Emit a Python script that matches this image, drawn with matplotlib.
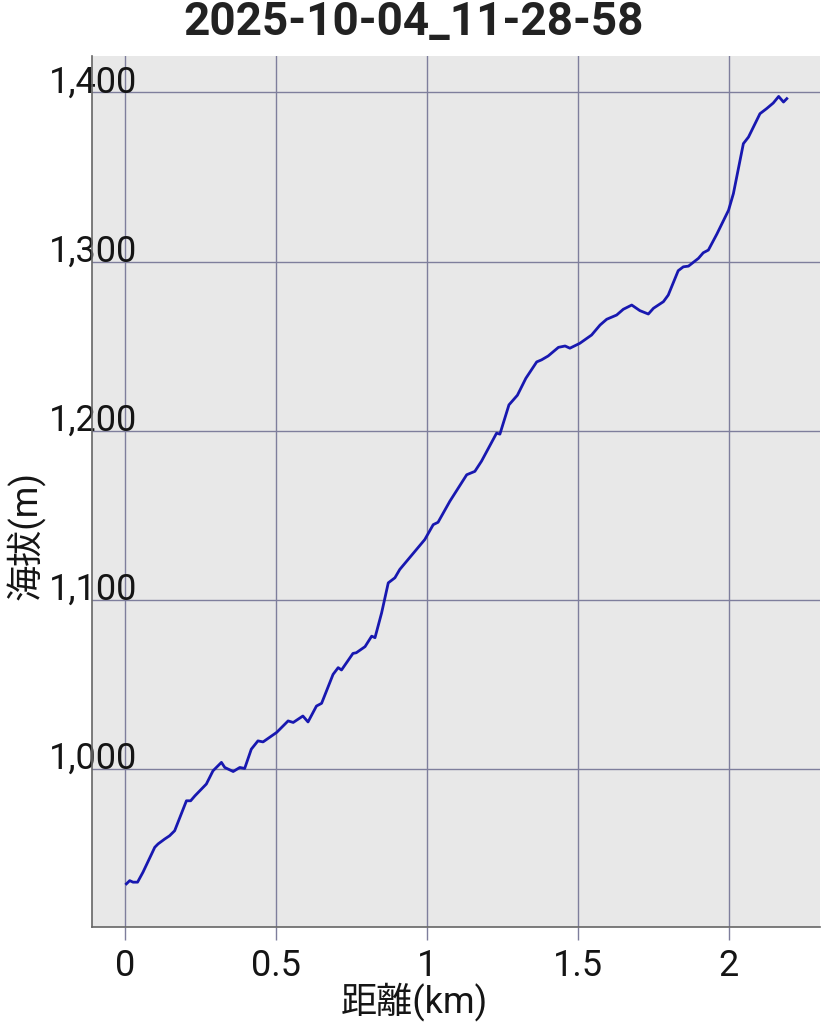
import matplotlib
matplotlib.use("Agg")
import matplotlib.pyplot as plt

distance_km = [0.004, 0.015, 0.026, 0.041, 0.059, 0.098, 0.109, 0.131, 0.147, 0.164,
               0.203, 0.217, 0.231, 0.269, 0.291, 0.319, 0.330, 0.358, 0.380, 0.396,
               0.418, 0.440, 0.457, 0.502, 0.540, 0.557, 0.589, 0.606, 0.634, 0.651,
               0.689, 0.706, 0.717, 0.755, 0.766, 0.795, 0.817, 0.828, 0.850, 0.872,
               0.894, 0.910, 0.993, 1.021, 1.037, 1.076, 1.132, 1.159, 1.181, 1.231,
               1.242, 1.272, 1.300, 1.328, 1.364, 1.380, 1.402, 1.436, 1.458, 1.474,
               1.507, 1.546, 1.574, 1.596, 1.629, 1.651, 1.679, 1.706, 1.734, 1.751,
               1.784, 1.800, 1.833, 1.850, 1.867, 1.900, 1.916, 1.933, 1.961, 2.000,
               2.016, 2.049, 2.066, 2.104, 2.126, 2.148, 2.166, 2.182, 2.193]
elevation_m = [932.2, 934.1, 933.2, 933.2, 939.1, 953.8, 955.8, 958.7, 960.6, 963.6,
               981.3, 981.3, 984.2, 991.2, 999.0, 1004.0, 1001.0, 998.6, 1001.0, 1000.4,
               1011.8, 1016.7, 1016.1, 1021.7, 1028.5, 1027.6, 1031.4, 1027.9, 1037.3, 1038.9,
               1056.0, 1060.0, 1058.6, 1068.4, 1068.8, 1072.4, 1078.6, 1077.7, 1092.4, 1110.1,
               1113.1, 1118.0, 1135.7, 1144.5, 1145.9, 1158.3, 1174.0, 1176.0, 1182.0, 1198.6,
               1198.0, 1215.3, 1221.0, 1231.0, 1240.7, 1241.9, 1244.2, 1249.3, 1250.1, 1248.8,
               1251.7, 1256.6, 1262.5, 1265.9, 1268.4, 1271.8, 1274.3, 1271.0, 1269.0, 1272.4,
               1276.3, 1280.2, 1294.6, 1296.9, 1297.3, 1301.9, 1305.2, 1306.8, 1316.2, 1330.4,
               1340.2, 1369.7, 1373.6, 1387.4, 1390.4, 1393.7, 1397.6, 1394.3, 1396.3]

x_ticks = [0, 0.5, 1, 1.5, 2]
x_tick_labels = ["0", "0.5", "1", "1.5", "2"]
y_ticks = [1000, 1100, 1200, 1300, 1400]
y_tick_labels = ["1,000", "1,100", "1,200", "1,300", "1,400"]

title = "2025-10-04_11-28-58"
x_label = "距離(km)"
y_label = "海拔(m)"

FAM = ["Roboto", "Noto Sans CJK JP", "DejaVu Sans"]
plt.rcParams["font.family"] = FAM

fig = plt.figure(figsize=(8.28, 10.24), dpi=100)
ax = fig.add_axes([92 / 828, 1 - 927 / 1024, (820 - 92) / 828, (927 - 56) / 1024])
ax.set_facecolor("#e8e8e8")

grid_c = "#7e7e9c"
ax.grid(True, color=grid_c, linewidth=1.0, zorder=0)
ax.set_axisbelow(True)

ax.plot(distance_km, elevation_m, color="#1818b0", linewidth=2.0, zorder=3)

ax.set_xlim(-0.110, 2.303)
ax.set_ylim(906.7, 1421.5)

ax.set_xticks(x_ticks)
ax.set_xticklabels(x_tick_labels, fontsize=26, color="#151515")
ax.set_yticks(y_ticks)
ax.set_yticklabels(y_tick_labels, fontsize=26, color="#151515")

ax.tick_params(axis="x", length=9, width=1.0, color=grid_c, pad=6)
ax.tick_params(axis="y", length=0, pad=-32.5)
for lab in ax.get_yticklabels():
    lab.set_horizontalalignment("right")
    lab.set_verticalalignment("baseline")

for s in ["top", "right"]:
    ax.spines[s].set_visible(False)
for s in ["left", "bottom"]:
    ax.spines[s].set_color("#666666")
    ax.spines[s].set_linewidth(1.2)

fig.text(414 / 828, 1 - 22 / 1024, title, ha="center", va="center",
         fontsize=33, fontweight="bold", color="#222222", family=FAM)
fig.text(414 / 828, 1 - 1002 / 1024, x_label, ha="center", va="center",
         fontsize=26, color="#151515", family=FAM)
fig.text(26 / 828, 1 - 535 / 1024, y_label, ha="center", va="center",
         rotation=90, fontsize=26, color="#151515", family=FAM)

fig.savefig("out.png", dpi=100, facecolor="white")
